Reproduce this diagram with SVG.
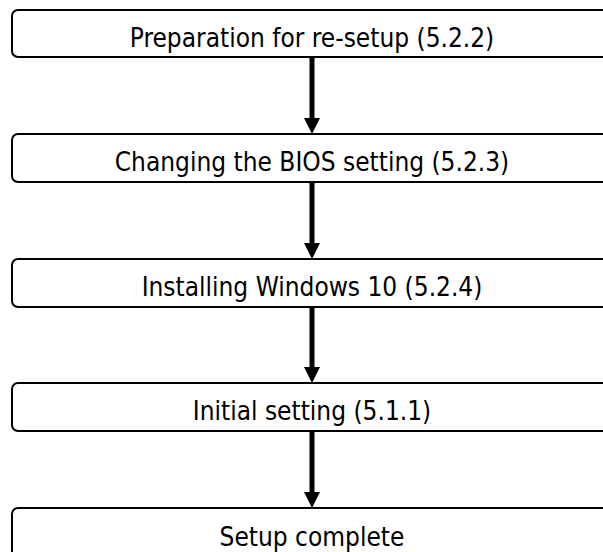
<svg xmlns="http://www.w3.org/2000/svg" width="603" height="552" viewBox="0 0 603 552">
<style>
.box{fill:#fff;stroke:#000;stroke-width:2}
.lbl{font-family:"DejaVu Sans Condensed","DejaVu Sans",sans-serif;font-size:26px;fill:#000;text-anchor:middle}
.shaft{stroke:#000;stroke-width:5;fill:none}
.head{fill:#000}
</style>
<rect x="0" y="0" width="603" height="552" fill="#fff"/>
<g id="connectors">
<line class="shaft" x1="312" y1="57" x2="312" y2="120"/><polygon class="head" points="304,118 320,118 312,134"/>
<line class="shaft" x1="312" y1="182" x2="312" y2="245"/><polygon class="head" points="304,243 320,243 312,259"/>
<line class="shaft" x1="312" y1="307" x2="312" y2="369"/><polygon class="head" points="304,367 320,367 312,383"/>
<line class="shaft" x1="312" y1="431" x2="312" y2="494"/><polygon class="head" points="304,492 320,492 312,508"/>
</g>
<g id="n1"><rect class="box" x="12" y="10" width="610" height="47" rx="6"/><text class="lbl" x="312" y="47">Preparation for re-setup (5.2.2)</text></g>
<g id="n2"><rect class="box" x="12" y="134" width="610" height="48" rx="6"/><text class="lbl" x="312" y="171">Changing the BIOS setting (5.2.3)</text></g>
<g id="n3"><rect class="box" x="12" y="259" width="610" height="48" rx="6"/><text class="lbl" x="312" y="296">Installing Windows 10 (5.2.4)</text></g>
<g id="n4"><rect class="box" x="12" y="383" width="610" height="48" rx="6"/><text class="lbl" x="312" y="420">Initial setting (5.1.1)</text></g>
<g id="n5"><rect class="box" x="12" y="508" width="610" height="60" rx="6"/><text class="lbl" x="312" y="546">Setup complete</text></g>
</svg>
